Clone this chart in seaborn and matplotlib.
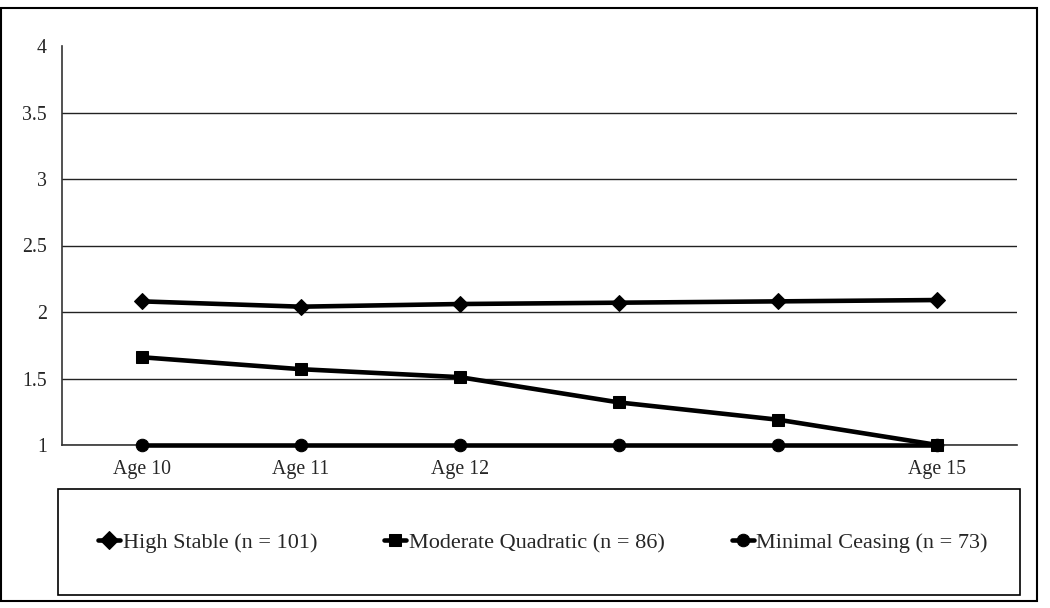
import numpy as np
import pandas as pd
import matplotlib
matplotlib.use("Agg")
import matplotlib.pyplot as plt
from matplotlib.patches import Rectangle
from matplotlib.ticker import FixedLocator
import seaborn as sns

# data
ages = ["Age 10", "Age 11", "Age 12", "Age 13", "Age 14", "Age 15"]
tick_labels = ["Age 10", "Age 11", "Age 12", "", "", "Age 15"]
high_stable = [2.08, 2.04, 2.06, 2.07, 2.08, 2.09]
moderate_quad = [1.66, 1.57, 1.51, 1.32, 1.19, 1.00]
minimal_ceasing = [1.00, 1.00, 1.00, 1.00, 1.00, 1.00]
groups = ["High Stable (n = 101)", "Moderate Quadratic (n = 86)", "Minimal Ceasing (n = 73)"]
y_ticks = [1, 1.5, 2, 2.5, 3, 3.5, 4]
y_tick_labels = ["1", "1.5", "2", "2.5", "3", "3.5", "4"]

df = pd.DataFrame({
    "pos": list(range(len(ages))) * 3,
    "value": high_stable + moderate_quad + minimal_ceasing,
    "group": np.repeat(groups, len(ages)),
})

sns.set_style("white")
plt.rcParams["font.family"] = ["Liberation Serif", "DejaVu Serif"]

fig = plt.figure(figsize=(10.5, 6.08), dpi=100)
ax = fig.add_axes([62 / 1050, 1 - 445 / 608, (1017 - 62) / 1050, (445 - 46) / 608])

sns.lineplot(data=df, x="pos", y="value", hue="group", style="group",
             palette=["black"] * 3, markers={groups[0]: "D", groups[1]: "s", groups[2]: "o"},
             dashes=False, linewidth=3.3, markersize=9, markeredgecolor="black",
             ax=ax, legend=True)
for ln in ax.lines:
    ln.set_clip_on(False)
    ln.set_zorder(3)
ax.lines[0].set_markersize(8)

ax.set_xlim(-0.5, len(ages) - 0.5)
ax.set_ylim(1, 4)
ax.set_yticks(y_ticks)
ax.set_yticklabels(y_tick_labels)
ax.set_xticks(range(len(ages)))
ax.set_xticklabels(tick_labels)
ax.xaxis.set_minor_locator(FixedLocator(np.arange(-0.5, len(ages), 1)))
ax.tick_params(axis="x", which="major", length=0, pad=11, labelsize=14.3)
ax.tick_params(axis="x", which="minor", length=6, width=1, direction="out", color="#333333")
ax.tick_params(axis="y", length=6, width=1, direction="out", color="#333333", pad=5, labelsize=14.3)
ax.set_xlabel("")
ax.set_ylabel("")

ax.yaxis.grid(True, color="#222222", linewidth=1)
ax.get_ygridlines()[-1].set_visible(False)
ax.set_axisbelow(True)
for s in ["top", "right"]:
    ax.spines[s].set_visible(False)
for s in ["left", "bottom"]:
    ax.spines[s].set_color("#333333")
    ax.spines[s].set_linewidth(1.2)

handles, labels = ax.get_legend_handles_labels()
ax.get_legend().remove()

# legend box and outer frame
fig.patches.append(Rectangle((58 / 1050, 1 - 595 / 608), (1020 - 58) / 1050, (595 - 489) / 608,
                             transform=fig.transFigure, fill=False, edgecolor="black", linewidth=1.2))
fig.patches.append(Rectangle((1 / 1050, 1 - 601 / 608), 1036 / 1050, 593 / 608,
                             transform=fig.transFigure, fill=False, edgecolor="black", linewidth=1.5))

fig.legend(handles, labels, loc="center", bbox_to_anchor=(543 / 1050, 1 - 543 / 608),
           ncol=3, frameon=False, fontsize=16, handlelength=1.0, handletextpad=0.12,
           columnspacing=3.0)

fig.savefig("out.png", dpi=100)
